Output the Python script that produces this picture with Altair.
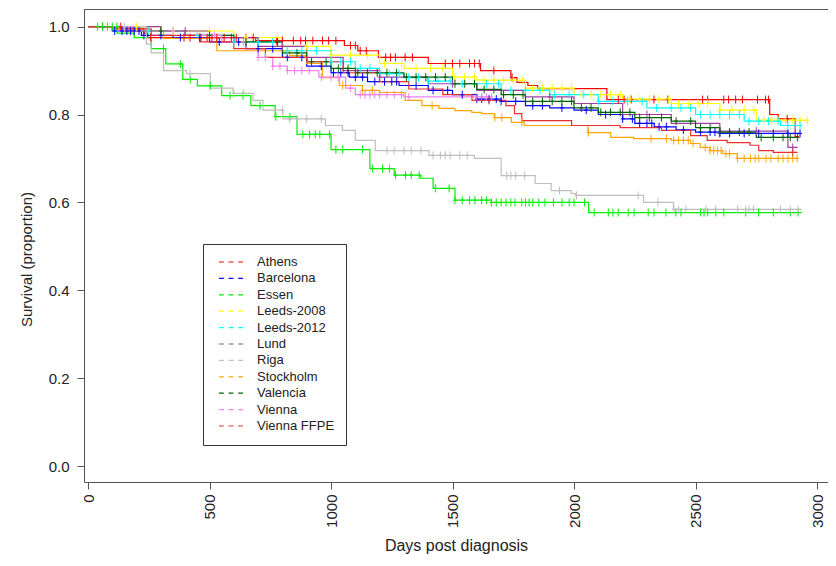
import altair as alt
import pandas as pd

# ---------------- data ----------------
series = ["Athens", "Barcelona", "Essen", "Leeds-2008", "Leeds-2012", "Lund",
          "Riga", "Stockholm", "Valencia", "Vienna", "Vienna FFPE"]
colors = ["#FF0000", "#0000FF", "#00EE00", "#FFFF00", "#00FFFF", "#A040A0",
          "#BEBEBE", "#FFA500", "#006400", "#EE82EE", "#E8302F"]

athens_days = [0, 150, 230, 245, 690, 1055, 1110, 1195, 1400, 1615, 1740, 1765, 1810, 1850, 2135, 2805, 2840, 2910]
athens_surv = [1.0, 0.995, 0.985, 0.975, 0.968, 0.957, 0.945, 0.93, 0.916, 0.90, 0.884, 0.873, 0.866, 0.859, 0.834, 0.80, 0.79, 0.75]
athens_end = 2925
athens_cens = [135, 258, 395, 420, 465, 490, 510, 530, 560, 590, 610, 650, 680, 775, 800, 845, 875, 895, 925, 965,
               990, 1020, 1080, 1100, 1120, 1145, 1225, 1245, 1265, 1305, 1335, 1470, 1500, 1530, 1570, 1590, 1610,
               1670, 1745, 2182, 2206, 2235, 2329, 2386, 2529, 2550, 2616, 2636, 2665, 2693, 2755, 2788, 2800, 2877]

barcelona_days = [0, 100, 220, 350, 500, 650, 800, 900, 1000, 1075, 1150, 1280, 1400, 1500, 1600, 1700, 1800, 1900,
                  2000, 2100, 2200, 2250, 2330, 2420, 2500, 2600]
barcelona_surv = [1.0, 0.99, 0.98, 0.975, 0.965, 0.95, 0.93, 0.91, 0.895, 0.885, 0.875, 0.866, 0.855, 0.845, 0.835,
                  0.83, 0.82, 0.815, 0.81, 0.80, 0.79, 0.78, 0.772, 0.765, 0.76, 0.757]
barcelona_end = 2930
barcelona_cens = [60, 110, 140, 160, 175, 190, 210, 230, 300, 380, 460, 540, 620, 700, 760, 820, 880, 960, 1010, 1040,
                  1070, 1100, 1130, 1180, 1220, 1250, 1270, 1350, 1420, 1480, 1540, 1600, 1620, 1650, 1680, 1700, 1760,
                  1830, 1870, 1950, 2050, 2130, 2200, 2240, 2270, 2300, 2320, 2350, 2380, 2450, 2520, 2560, 2580, 2600,
                  2640, 2700, 2760, 2820, 2880, 2930]

essen_days = [0, 120, 190, 260, 320, 390, 450, 550, 670, 770, 860, 1000, 1160, 1260, 1370, 1420, 1510, 1660, 2060]
essen_surv = [1.0, 0.985, 0.975, 0.95, 0.915, 0.88, 0.865, 0.843, 0.82, 0.795, 0.755, 0.72, 0.677, 0.662, 0.655,
              0.632, 0.605, 0.600, 0.577]
essen_end = 2937
essen_cens = [40, 60, 80, 100, 119, 311, 381, 421, 503, 585, 638, 708, 773, 831, 884, 912, 935, 954, 994, 1020, 1048,
              1130, 1170, 1212, 1240, 1265, 1306, 1330, 1363, 1429, 1486, 1510, 1540, 1570, 1592, 1620, 1640, 1660,
              1680, 1700, 1720, 1740, 1757, 1785, 1800, 1815, 1830, 1855, 1880, 1915, 1950, 1980, 2000, 2043, 2083,
              2141, 2160, 2182, 2223, 2247, 2305, 2329, 2378, 2419, 2440, 2521, 2535, 2550, 2583, 2616, 2706, 2759,
              2820, 2890, 2922]

leeds08_days = [0, 300, 600, 800, 1000, 1200, 1300, 1500, 1600, 1800, 2000, 2200, 2400, 2600, 2750]
leeds08_surv = [1.0, 0.99, 0.975, 0.955, 0.935, 0.916, 0.905, 0.885, 0.878, 0.86, 0.845, 0.835, 0.825, 0.81, 0.787]
leeds08_end = 2960
leeds08_cens = [200, 350, 500, 650, 780, 900, 1000, 1080, 1150, 1220, 1290, 1350, 1410, 1460, 1510, 1550, 1590, 1630,
                1670, 1710, 1750, 1790, 1830, 1870, 1910, 1950, 1990, 2030, 2070, 2110, 2150, 2190, 2230, 2270, 2310,
                2350, 2390, 2430, 2470, 2510, 2550, 2600, 2650, 2700, 2740, 2780, 2810, 2840, 2870, 2900, 2930, 2960]

leeds12_days = [0, 200, 400, 600, 800, 1000, 1100, 1200, 1300, 1400, 1500, 1700, 1900, 2100, 2300, 2500, 2700, 2850]
leeds12_surv = [1.0, 0.99, 0.98, 0.965, 0.945, 0.92, 0.905, 0.893, 0.884, 0.876, 0.87, 0.855, 0.845, 0.83, 0.815,
                0.80, 0.785, 0.775]
leeds12_end = 2930
leeds12_cens = [250, 450, 600, 700, 760, 820, 880, 940, 1000, 1040, 1080, 1120, 1160, 1200, 1240, 1280, 1320, 1360,
                1400, 1440, 1490, 1540, 1590, 1640, 1690, 1740, 1800, 1860, 1920, 1980, 2040, 2100, 2160, 2220, 2280,
                2340, 2400, 2440, 2480, 2520, 2560, 2600, 2640, 2680, 2720, 2760, 2800, 2840, 2880, 2910, 2930]

lund_days = [0, 300, 500, 700, 900, 1050, 1200, 1400, 1600, 1800, 2000, 2200, 2400, 2600, 2880]
lund_surv = [1.0, 0.99, 0.975, 0.955, 0.93, 0.90, 0.885, 0.87, 0.855, 0.84, 0.825, 0.80, 0.78, 0.762, 0.725]
lund_end = 2920
lund_cens = [400, 800, 1200, 1500, 1900, 2300, 2600, 2750, 2900]

riga_days = [0, 240, 260, 311, 405, 503, 597, 679, 720, 802, 977, 1047, 1100, 1182, 1403, 1590, 1700, 1840, 1906,
             1988, 2008, 2286, 2409]
riga_surv = [1.0, 0.96, 0.94, 0.90, 0.893, 0.86, 0.848, 0.832, 0.81, 0.79, 0.775, 0.764, 0.741, 0.718, 0.707, 0.70,
             0.661, 0.643, 0.627, 0.62, 0.616, 0.60, 0.584]
riga_end = 2937
riga_cens = [150, 420, 600, 640, 800, 830, 860, 900, 960, 1230, 1260, 1300, 1330, 1370, 1420, 1450, 1470, 1490, 1530,
             1560, 1723, 1740, 1760, 1797, 1940, 2010, 2264, 2345, 2411, 2430, 2460, 2542, 2583, 2673, 2706, 2720,
             2738, 2849, 2890, 2922]

stockholm_days = [0, 150, 310, 530, 830, 900, 965, 1034, 1129, 1200, 1305, 1374, 1444, 1510, 1579, 1620, 1673, 1742,
                  1795, 2057, 2151, 2245, 2400, 2480, 2519, 2560, 2613, 2671]
stockholm_surv = [1.0, 0.99, 0.973, 0.945, 0.934, 0.916, 0.884, 0.866, 0.855, 0.85, 0.832, 0.82, 0.814, 0.809, 0.805,
                  0.802, 0.793, 0.782, 0.775, 0.759, 0.748, 0.745, 0.741, 0.734, 0.725, 0.718, 0.711, 0.70]
stockholm_end = 2920
stockholm_cens = [1048, 1130, 1170, 1416, 1674, 1703, 1785, 2059, 2317, 2380, 2410, 2430, 2450, 2470, 2490, 2540, 2560,
                  2575, 2590, 2605, 2625, 2640, 2673, 2700, 2726, 2745, 2760, 2790, 2810, 2840, 2860, 2880, 2900, 2918]

valencia_days = [0, 200, 400, 600, 800, 900, 1000, 1100, 1300, 1500, 1600, 1700, 1800, 2000, 2100, 2250, 2400, 2500,
                 2600, 2750]
valencia_surv = [1.0, 0.99, 0.98, 0.965, 0.94, 0.92, 0.905, 0.895, 0.885, 0.87, 0.857, 0.845, 0.83, 0.815, 0.805,
                 0.793, 0.785, 0.77, 0.76, 0.748]
valencia_end = 2920
valencia_cens = [300, 500, 650, 780, 860, 920, 980, 1030, 1070, 1110, 1150, 1190, 1230, 1270, 1310, 1350, 1390, 1430,
                 1470, 1510, 1550, 1590, 1630, 1670, 1710, 1750, 1790, 1830, 1870, 1910, 1950, 1990, 2030, 2070, 2110,
                 2150, 2190, 2230, 2270, 2310, 2360, 2420, 2480, 2520, 2560, 2600, 2640, 2680, 2720, 2770, 2820, 2860,
                 2890, 2920]

vienna_days = [0, 200, 400, 550, 650, 700, 760, 820, 950, 1060, 1100, 1300]
vienna_surv = [1.0, 0.99, 0.98, 0.965, 0.95, 0.93, 0.91, 0.90, 0.885, 0.86, 0.845, 0.84]
vienna_end = 1660
vienna_cens = [350, 520, 640, 700, 730, 760, 790, 820, 850, 880, 910, 960, 1000, 1030, 1080, 1120, 1140, 1160, 1180,
               1200, 1230, 1260, 1290, 1320, 1600, 1620, 1640, 1660]

ffpe_days = [0, 100, 260, 460, 600, 730, 900, 1050, 1200, 1320, 1460, 1580, 1720, 1755, 1785, 1990, 2190, 2360, 2480,
             2548, 2630, 2724, 2760, 2820]
ffpe_surv = [1.0, 0.995, 0.98, 0.965, 0.95, 0.93, 0.92, 0.895, 0.875, 0.858, 0.845, 0.832, 0.82, 0.802, 0.786, 0.775,
             0.77, 0.764, 0.752, 0.741, 0.736, 0.73, 0.718, 0.714]
ffpe_end = 2920
ffpe_cens = [1650, 2900]

x_ticks = [0, 500, 1000, 1500, 2000, 2500, 3000]
y_ticks = [0.0, 0.2, 0.4, 0.6, 0.8, 1.0]

# ---------------- build tables ----------------
curves = [
    ("Athens", athens_days, athens_surv, athens_end, athens_cens),
    ("Barcelona", barcelona_days, barcelona_surv, barcelona_end, barcelona_cens),
    ("Essen", essen_days, essen_surv, essen_end, essen_cens),
    ("Leeds-2008", leeds08_days, leeds08_surv, leeds08_end, leeds08_cens),
    ("Leeds-2012", leeds12_days, leeds12_surv, leeds12_end, leeds12_cens),
    ("Lund", lund_days, lund_surv, lund_end, lund_cens),
    ("Riga", riga_days, riga_surv, riga_end, riga_cens),
    ("Stockholm", stockholm_days, stockholm_surv, stockholm_end, stockholm_cens),
    ("Valencia", valencia_days, valencia_surv, valencia_end, valencia_cens),
    ("Vienna", vienna_days, vienna_surv, vienna_end, vienna_cens),
    ("Vienna FFPE", ffpe_days, ffpe_surv, ffpe_end, ffpe_cens),
]

line_rows, pt_rows = [], []
for name, days, surv, end, cens in curves:
    for d, s in zip(days, surv):
        line_rows.append({"group": name, "day": d, "surv": s})
    line_rows.append({"group": name, "day": end, "surv": surv[-1]})
    for c in cens:
        val = surv[0]
        for d, s in zip(days, surv):
            if d <= c:
                val = s
        pt_rows.append({"group": name, "day": c, "surv": val})

lines_df = pd.DataFrame(line_rows)
pts_df = pd.DataFrame(pt_rows)

W, H = 744, 473
x_scale = alt.Scale(domain=[-16.5, 3045], nice=False, zero=False)
y_scale = alt.Scale(domain=[-0.036, 1.04], nice=False, zero=False)
color_scale = alt.Scale(domain=series, range=colors)

legend = alt.Legend(
    title=None, orient="none", legendX=119, legendY=235,
    strokeColor="#333333", padding=11, fillColor="white",
    symbolType="M-2,0H-1.2M-0.4,0H0.4M1.2,0H2", symbolSize=144,
    symbolStrokeWidth=1.2, symbolFillColor="transparent",
    symbolOffset=10, labelOffset=19,
    labelFontSize=13, labelColor="#222222", rowPadding=2.4, labelLimit=200,
)

lines = alt.Chart(lines_df).mark_line(interpolate="step-after", strokeWidth=1.2).encode(
    x=alt.X("day:Q", scale=x_scale,
            axis=alt.Axis(values=x_ticks, title="Days post diagnosis", labelAngle=270,
                          tickSize=7, labelPadding=5, titlePadding=10, labelFontSize=15,
                          titleFontSize=16, titleFontWeight="normal", grid=False,
                          domainColor="#555555", tickColor="#555555", labelColor="#222222",
                          titleColor="#222222", format="d")),
    y=alt.Y("surv:Q", scale=y_scale,
            axis=alt.Axis(values=y_ticks, format=".1f", title="Survival (proportion)",
                          tickSize=7, labelPadding=8, titlePadding=14, labelFontSize=15,
                          titleFontSize=15, titleFontWeight="normal", grid=False,
                          domainColor="#555555", tickColor="#555555", labelColor="#222222",
                          titleColor="#222222", titleY=250)),
    color=alt.Color("group:N", scale=color_scale, legend=legend),
    detail="group:N",
)

points = alt.Chart(pts_df).mark_point(
    shape="M-0.5,0H0.5M0,-1V1", size=64, filled=False, strokeWidth=1, opacity=1
).encode(
    x=alt.X("day:Q", scale=x_scale,
            axis=alt.Axis(orient="top", labels=False, ticks=False, title=None, grid=False,
                          domainColor="#555555")),
    y=alt.Y("surv:Q", scale=y_scale),
    color=alt.Color("group:N", scale=color_scale, legend=legend),
)

chart = alt.layer(lines, points).resolve_axis(x="independent").properties(
    width=W, height=H,
    autosize=alt.AutoSizeParams(type="none"),
    padding={"left": 76, "top": 1, "right": 0, "bottom": 76},
).configure(font="Liberation Sans").configure_view(stroke=None)

chart.save("out.html", embed_options={"renderer": "svg", "actions": False})
